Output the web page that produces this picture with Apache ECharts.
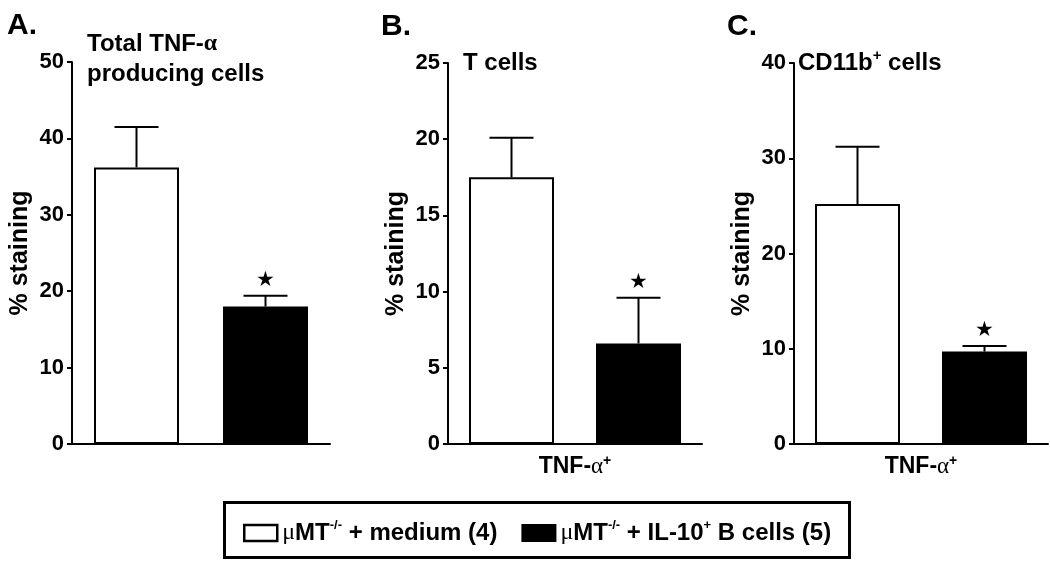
<!DOCTYPE html>
<html>
<head>
<meta charset="utf-8">
<script src="https://cdn.jsdelivr.net/npm/echarts@6/dist/echarts.min.js"></script>
<style>
html,body{margin:0;padding:0;background:#fff;}
#chart{width:1050px;height:564px;}
</style>
</head>
<body>
<div id="chart"></div>
<script>
// ---- data ----
const panelLetters = ['A.', 'B.', 'C.'];
const groups = ['medium', 'IL-10+ B cells'];
const mediumMean = [36.2, 17.5, 25.2];
const mediumSEM  = [5.3, 2.6, 6.0];
const il10Mean   = [18.0, 6.6, 9.7];
const il10SEM    = [1.4, 3.0, 0.6];
const il10Star   = [1, 1, 1];
const yMax       = [50, 25, 40];
const yInterval  = [10, 5, 10];
const showXName  = [false, true, true];

const FONT = '"Liberation Sans", Arial, sans-serif';
const grids = [
  {left: 72,  top: 62, width: 258, height: 382},
  {left: 448, top: 63, width: 254, height: 381},
  {left: 794, top: 63, width: 254, height: 381}
];

const xName = '{t|TNF-}{a|α}{s|+}';
const richBase = {
  t: {fontFamily: FONT, fontWeight: 'bold', fontSize: 23, color: '#000', lineHeight: 26},
  a: {fontFamily: '"Liberation Serif", serif', fontSize: 23, color: '#000', lineHeight: 26},
  s: {fontFamily: FONT, fontWeight: 'bold', fontSize: 14, color: '#000', verticalAlign: 'top', lineHeight: 26}
};

const xAxes = [], yAxes = [], series = [];
for (let i = 0; i < 3; i++) {
  xAxes.push({
    type: 'category', gridIndex: i, data: groups, boundaryGap: true,
    axisLine: {lineStyle: {color: '#000', width: 2}},
    axisTick: {show: false}, axisLabel: {show: false},
    name: showXName[i] ? xName : '', nameLocation: 'middle', nameGap: 10,
    nameTextStyle: {rich: richBase, verticalAlign: 'top'}
  });
  yAxes.push({
    type: 'value', gridIndex: i, min: 0, max: yMax[i], interval: yInterval[i],
    axisLine: {show: true, lineStyle: {color: '#000', width: 2}},
    axisTick: {show: true, length: 5, lineStyle: {color: '#000', width: 2}},
    splitLine: {show: false},
    axisLabel: {fontFamily: FONT, fontWeight: 'bold', fontSize: 22, color: '#000', margin: 8},
    name: '% staining', nameLocation: 'middle', nameGap: 39, nameRotate: 90,
    nameTextStyle: {fontFamily: FONT, fontWeight: 'bold', fontSize: 25, color: '#000'}
  });
  series.push({
    name: 'medium', type: 'bar', xAxisIndex: i, yAxisIndex: i,
    data: [mediumMean[i], '-'], barWidth: 85, barGap: '-100%',
    itemStyle: {color: '#fff', borderColor: '#000', borderWidth: 2}
  });
  series.push({
    name: 'il10', type: 'bar', xAxisIndex: i, yAxisIndex: i,
    data: ['-', il10Mean[i]], barWidth: 85, barGap: '-100%',
    itemStyle: {color: '#000', borderColor: '#000', borderWidth: 2}
  });
  series.push({
    type: 'custom', xAxisIndex: i, yAxisIndex: i, z: 5, silent: true,
    encode: {x: 0, y: 1},
    data: [[0, mediumMean[i], mediumSEM[i], 0], [1, il10Mean[i], il10SEM[i], il10Star[i]]],
    renderItem: function (params, api) {
      const x = api.value(0), m = api.value(1), e = api.value(2), st = api.value(3);
      const p0 = api.coord([x, m]);
      const p1 = api.coord([x, m + e]);
      const children = [
        {type: 'line', shape: {x1: p0[0], y1: p0[1], x2: p1[0], y2: p1[1]}, style: {stroke: '#000', lineWidth: 2}},
        {type: 'line', shape: {x1: p1[0] - 22, y1: p1[1], x2: p1[0] + 22, y2: p1[1]}, style: {stroke: '#000', lineWidth: 2}}
      ];
      if (st) {
        children.push({type: 'text', style: {text: '★', x: p1[0], y: p1[1] - 15, align: 'center', verticalAlign: 'middle',
          font: '21px "DejaVu Sans"', fill: '#000'}});
      }
      return {type: 'group', children: children};
    }
  });
}

const titleRich = {
  t: {fontFamily: FONT, fontWeight: 'bold', fontSize: 24, color: '#000', lineHeight: 30},
  a: {fontFamily: '"Liberation Serif", serif', fontSize: 24, color: '#000', lineHeight: 30},
  s: {fontFamily: FONT, fontWeight: 'bold', fontSize: 15, color: '#000', verticalAlign: 'top', lineHeight: 30}
};
const letterStyle = {fontFamily: FONT, fontWeight: 'bold', fontSize: 30, color: '#000'};

const option = {
  backgroundColor: '#fff',
  animation: false,
  title: [
    {text: panelLetters[0], left: 7, top: 11, textStyle: letterStyle, padding: 0},
    {text: panelLetters[1], left: 381, top: 12, textStyle: letterStyle, padding: 0},
    {text: panelLetters[2], left: 727, top: 12, textStyle: letterStyle, padding: 0},
    {text: '{t|Total TNF-}{a|α}\n{t|producing cells}', left: 87, top: 29, padding: 0, textStyle: {rich: titleRich}},
    {text: '{t|T cells}', left: 463, top: 48, padding: 0, textStyle: {rich: titleRich}},
    {text: '{t|CD11b}{s|+}{t| cells}', left: 798, top: 48, padding: 0, textStyle: {rich: titleRich}}
  ],
  grid: grids,
  xAxis: xAxes,
  yAxis: yAxes,
  series: series,
  legend: {
    left: 238, top: 514, itemGap: 24, itemWidth: 33, itemHeight: 16,
    selectedMode: false,
    data: [
      {name: 'medium', icon: 'rect', itemStyle: {color: '#fff', borderColor: '#000', borderWidth: 2.5}},
      {name: 'il10', icon: 'rect', itemStyle: {color: '#000', borderColor: '#000', borderWidth: 2}}
    ],
    formatter: function (name) {
      return name === 'medium'
        ? '{m|μ}{t|MT}{s|-/-}{t| + medium (4)}'
        : '{m|μ}{t|MT}{s|-/-}{t| + IL-10}{s|+}{t| B cells (5)}';
    },
    textStyle: {
      rich: {
        m: {fontFamily: '"Liberation Serif", serif', fontSize: 24, color: '#000', lineHeight: 28},
        t: {fontFamily: FONT, fontWeight: 'bold', fontSize: 24, color: '#000', lineHeight: 28},
        s: {fontFamily: FONT, fontWeight: 'bold', fontSize: 13, color: '#000', verticalAlign: 'top', lineHeight: 28}
      }
    }
  },
  graphic: [
    {type: 'rect', left: 222, top: 500, shape: {width: 625, height: 55}, style: {fill: 'none', stroke: '#000', lineWidth: 3}, z: 10}
  ]
};

const chart = echarts.init(document.getElementById('chart'), null, {renderer: 'canvas'});
chart.setOption(option);
</script>
</body>
</html>
